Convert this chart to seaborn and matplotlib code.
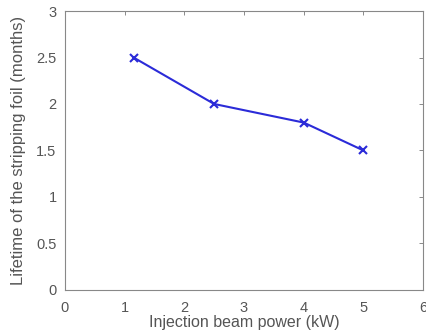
import matplotlib
matplotlib.use("Agg")
import matplotlib.pyplot as plt
import seaborn as sns
import pandas as pd

power_kw = [1.15, 2.5, 4.0, 5.0]
lifetime_months = [2.5, 2.0, 1.8, 1.5]
x_ticks = [0, 1, 2, 3, 4, 5, 6]
y_ticks = [0, 0.5, 1, 1.5, 2, 2.5, 3]
y_tick_labels = ["0", "0.5", "1", "1.5", "2", "2.5", "3"]

sns.set_style("white")
plt.rcParams['font.family'] = ['Liberation Sans', 'DejaVu Sans']

df = pd.DataFrame({"power": power_kw, "life": lifetime_months})

fig = plt.figure(figsize=(4.27, 3.34), dpi=100)
ax = fig.add_axes([0.152, 0.132, 0.839, 0.835])
sns.lineplot(data=df, x="power", y="life", ax=ax, color="#2b2bd8",
             marker="x", markersize=6, markeredgewidth=1.5,
             markeredgecolor="#2b2bd8", linewidth=1.5)
ax.set_xlim(0, 6)
ax.set_ylim(0, 3)
ax.set_xticks(x_ticks)
ax.set_yticks(y_ticks)
ax.set_yticklabels(y_tick_labels)
ax.tick_params(direction="in", length=3, width=0.6, colors="#777777",
               labelsize=10.5, top=True, right=True, labelcolor="#555555")
ax.tick_params(axis="x", pad=8)
ax.tick_params(axis="y", pad=6)
for s in ax.spines.values():
    s.set_color("#888888")
    s.set_linewidth(0.8)
    s.set_visible(True)
ax.set_xlabel("Injection beam power (kW)", fontsize=11.5, color="#555555", labelpad=0)
ax.set_ylabel("Lifetime of the stripping foil (months)", fontsize=12, color="#555555", labelpad=7)
fig.savefig("out.png", dpi=100)
